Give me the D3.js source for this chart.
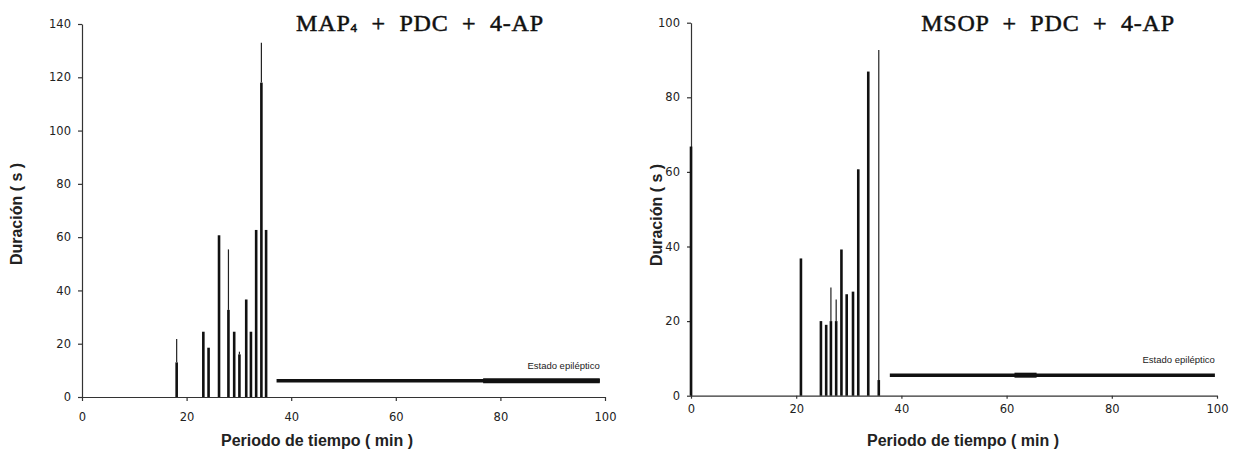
<!DOCTYPE html>
<html>
<head>
<meta charset="utf-8">
<script src="https://cdn.jsdelivr.net/npm/d3@7"></script>
<style>
  body { margin: 0; background: #fff; }
  svg { display: block; }
  .tick text { font-family: "DejaVu Sans", sans-serif; font-size: 11.5px; fill: #222; }
  .axis path, .axis line { stroke: #333; stroke-width: 1.2; }
  .lbl { font-family: "Liberation Sans", Arial, sans-serif; font-weight: bold; font-size: 16px; fill: #222; }
  .title { font-family: "Liberation Serif", "DejaVu Serif", serif; font-size: 24px; letter-spacing: 0.8px; fill: #111; stroke: #111; stroke-width: 0.5px; }
  .note { font-family: "Liberation Sans", Arial, sans-serif; font-size: 9.5px; fill: #222; }
</style>
</head>
<body>
<div id="chart"></div>
<script>
// Panel A: MAP4 + PDC + 4-AP
const leftTimes = [18.1, 23.2, 24.2, 26.2, 28.0, 29.1, 30.1, 31.4, 32.3, 33.3, 34.3, 35.2];
const leftDur   = [13, 24.5, 18.5, 60.7, 32.7, 24.5, 16, 36.6, 24.5, 62.7, 118, 62.7];
const leftPeak  = [21.8, 24.5, 18.5, 60.7, 55.4, 24.5, 17, 36.6, 24.5, 62.7, 133, 62.7];
const leftStatus = [37.2, 99, 6.1];      // start, end, duration level
const leftStatusThick = [76.7, 99];
const leftYTicks = [0, 20, 40, 60, 80, 100, 120, 140];

// Panel B: MSOP + PDC + 4-AP
const rightTimes = [0, 20.9, 24.7, 25.7, 26.6, 27.6, 28.6, 29.6, 30.8, 31.8, 33.7, 35.7];
const rightDur   = [66.8, 36.8, 20, 19, 20, 20, 39.2, 27.2, 27.9, 60.7, 86.9, 4.2];
const rightPeak  = [66.8, 36.8, 20, 19, 29, 25.8, 39.2, 27.2, 27.9, 60.7, 86.9, 92.7];
const rightStatus = [37.8, 99.6, 5.5];
const rightStatusThick = [61.5, 65.7];
const rightYTicks = [0, 20, 40, 60, 80, 100];

const xTicks = [0, 20, 40, 60, 80, 100];

const svg = d3.select("#chart").append("svg")
  .attr("width", 1241)
  .attr("height", 456);

function drawPanel(p) {
  let x = d3.scaleLinear().domain([0, 100]).range([p.x0, p.x1]);
  let y = d3.scaleLinear().domain([0, p.yMax]).range([p.yBottom, p.yTop]);
  let g = svg.append("g");

  g.append("g")
    .attr("class", "axis")
    .attr("transform", "translate(" + p.x0 + ",0)")
    .call(d3.axisLeft(y).tickValues(p.yTicks).tickSize(4).tickSizeOuter(0).tickPadding(7));

  g.append("g")
    .attr("class", "axis")
    .attr("transform", "translate(0," + p.yBottom + ")")
    .call(d3.axisBottom(x).tickValues(xTicks).tickSize(p.xTickSize).tickSizeOuter(0).tickPadding(p.xPad));

  // thick part of each bar
  g.selectAll(".bar")
    .data(p.times)
    .enter().append("rect")
    .attr("class", "bar")
    .attr("x", function (d) { return x(d) - 1.3; })
    .attr("width", 2.6)
    .attr("y", function (d, i) { return y(p.dur[i]); })
    .attr("height", function (d, i) { return y(0) - y(p.dur[i]); })
    .attr("fill", "#111");

  // thin peak above some bars
  g.selectAll(".peak")
    .data(p.times.filter(function (d, i) { return p.peak[i] > p.dur[i]; }))
    .enter().append("line")
    .attr("x1", function (d) { return x(d); })
    .attr("x2", function (d) { return x(d); })
    .attr("y1", function (d) { return y(p.dur[p.times.indexOf(d)]); })
    .attr("y2", function (d) { return y(p.peak[p.times.indexOf(d)]); })
    .attr("stroke", "#222")
    .attr("stroke-width", 1.2);

  // status epilepticus bar
  g.append("line")
    .attr("x1", x(p.status[0])).attr("x2", x(p.status[1]))
    .attr("y1", y(p.status[2])).attr("y2", y(p.status[2]))
    .attr("stroke", "#111").attr("stroke-width", 3.6);
  g.append("line")
    .attr("x1", x(p.statusThick[0])).attr("x2", x(p.statusThick[1]))
    .attr("y1", y(p.status[2])).attr("y2", y(p.status[2]))
    .attr("stroke", "#111").attr("stroke-width", 5);

  g.append("text")
    .attr("class", "note")
    .attr("x", x(p.status[1]))
    .attr("y", y(p.status[2]) - 12)
    .attr("text-anchor", "end")
    .text("Estado epiléptico");

  g.append("text")
    .attr("class", "lbl")
    .attr("transform", "translate(" + p.yLabelX + "," + p.yLabelY + ") rotate(-90)")
    .attr("text-anchor", "middle")
    .text("Duración ( s )");

  g.append("text")
    .attr("class", "lbl")
    .attr("x", p.xLabelX)
    .attr("y", 446)
    .attr("text-anchor", "middle")
    .text("Periodo de tiempo ( min )");

  let t = g.append("text")
    .attr("class", "title")
    .attr("x", p.titleX)
    .attr("y", 31)
    .attr("text-anchor", "middle")
    .attr("xml:space", "preserve");
  t.append("tspan").text(p.title[0]);
  if (p.title[1]) {
    t.append("tspan").attr("font-size", "13px").attr("dy", 1).text(p.title[1]);
    t.append("tspan").attr("dy", -1).text(p.title[2]);
  }
}

drawPanel({
  x0: 82, x1: 605, yTop: 24, yBottom: 397, yMax: 140, yTicks: leftYTicks,
  xTickSize: 4, xPad: 12,
  times: leftTimes, dur: leftDur, peak: leftPeak,
  status: leftStatus, statusThick: leftStatusThick,
  yLabelX: 22, yLabelY: 214, xLabelX: 317, titleX: 420,
  title: ["MAP", "4", "  +  PDC  +  4-AP"]
});

drawPanel({
  x0: 691, x1: 1217, yTop: 22.7, yBottom: 395.7, yMax: 100, yTicks: rightYTicks,
  xTickSize: 3, xPad: 6,
  times: rightTimes, dur: rightDur, peak: rightPeak,
  status: rightStatus, statusThick: rightStatusThick,
  yLabelX: 662, yLabelY: 215, xLabelX: 963, titleX: 1048,
  title: ["MSOP  +  PDC  +  4-AP"]
});
</script>
</body>
</html>
